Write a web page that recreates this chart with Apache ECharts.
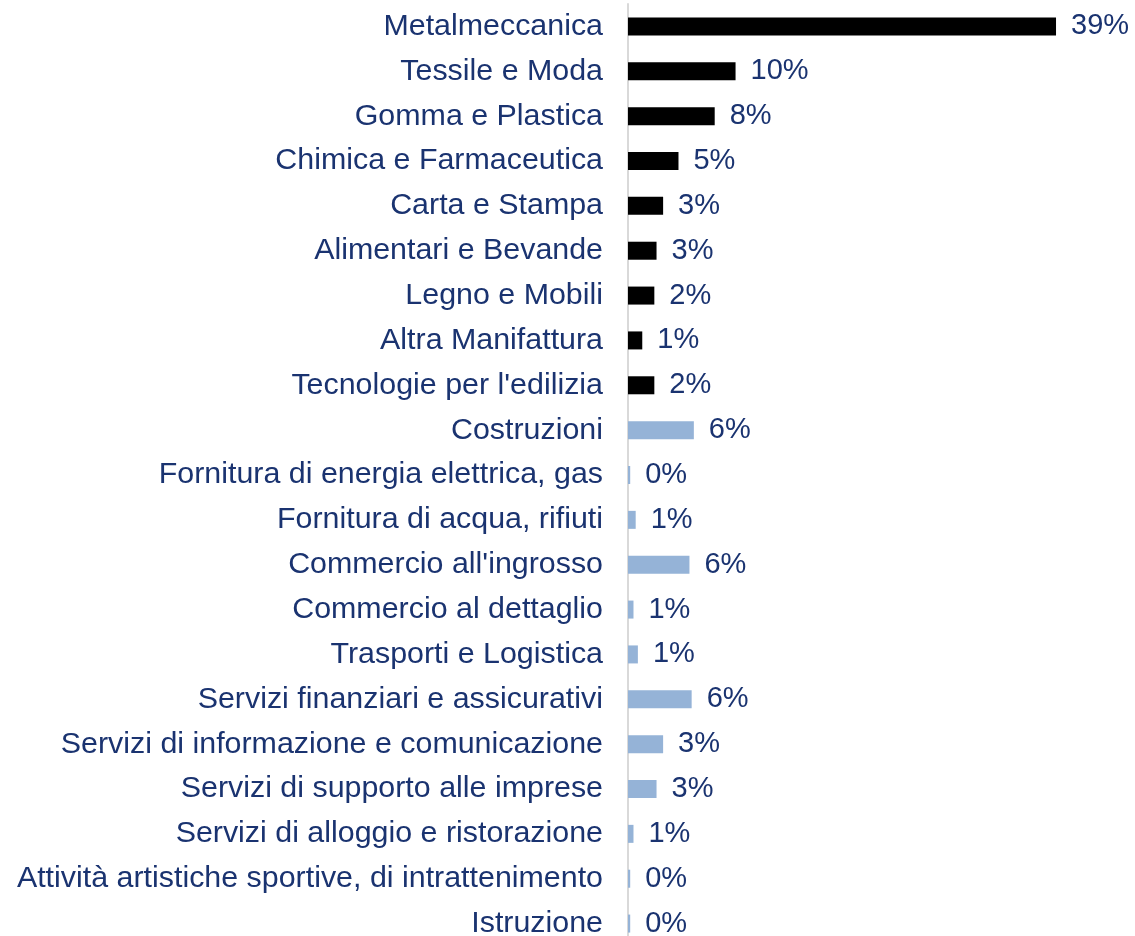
<!DOCTYPE html>
<html>
<head>
<meta charset="utf-8">
<script src="https://cdn.jsdelivr.net/npm/echarts@6/dist/echarts.min.js"></script>
<style>
  html, body { margin: 0; padding: 0; background: #fff; }
  #chart { width: 1135px; height: 936px; }
</style>
</head>
<body>
<div id="chart"></div>
<script>
var categories = [
  'Metalmeccanica', 'Tessile e Moda', 'Gomma e Plastica', 'Chimica e Farmaceutica',
  'Carta e Stampa', 'Alimentari e Bevande', 'Legno e Mobili', 'Altra Manifattura',
  "Tecnologie per l'edilizia", 'Costruzioni', 'Fornitura di energia elettrica, gas',
  'Fornitura di acqua, rifiuti', "Commercio all'ingrosso", 'Commercio al dettaglio',
  'Trasporti e Logistica', 'Servizi finanziari e assicurativi',
  'Servizi di informazione e comunicazione', 'Servizi di supporto alle imprese',
  'Servizi di alloggio e ristorazione', 'Attività artistiche sportive, di intrattenimento',
  'Istruzione'
];
// share of companies, percent
var values = [
  39, 9.8, 7.9, 4.6, 3.2, 2.6, 2.4, 1.3, 2.4, 6.0, 0.2,
  0.7, 5.6, 0.5, 0.9, 5.8, 3.2, 2.6, 0.5, 0.2, 0.2
];
// 'm' = manifattura, 's' = altri settori
var groups = ['m','m','m','m','m','m','m','m','m','s','s','s','s','s','s','s','s','s','s','s','s'];

var groupColor = { m: '#000000', s: '#95b3d7' };

var chart = echarts.init(document.getElementById('chart'));

var option = {
  animation: false,
  grid: { left: 628, top: 4, width: 439, height: 942, outerBoundsMode: 'none' },
  xAxis: {
    type: 'value',
    min: 0,
    max: 40,
    show: false
  },
  yAxis: {
    type: 'category',
    inverse: true,
    data: categories,
    axisLine: { show: true, lineStyle: { color: '#d9d9d9', width: 2 } },
    axisTick: { show: false },
    axisLabel: {
      margin: 25,
      fontFamily: 'Liberation Sans',
      fontSize: 30.4,
      color: '#1a3370'
    }
  },
  series: [{
    type: 'bar',
    barWidth: 18,
    data: values.map(function (v, i) {
      return { value: v, itemStyle: { color: groupColor[groups[i]] } };
    }),
    label: {
      show: true,
      position: 'right',
      distance: 15,
      fontFamily: 'Liberation Sans',
      fontSize: 29,
      color: '#1a3370',
      formatter: function (p) { return Math.round(p.value) + '%'; }
    }
  }]
};

chart.setOption(option);
</script>
</body>
</html>
